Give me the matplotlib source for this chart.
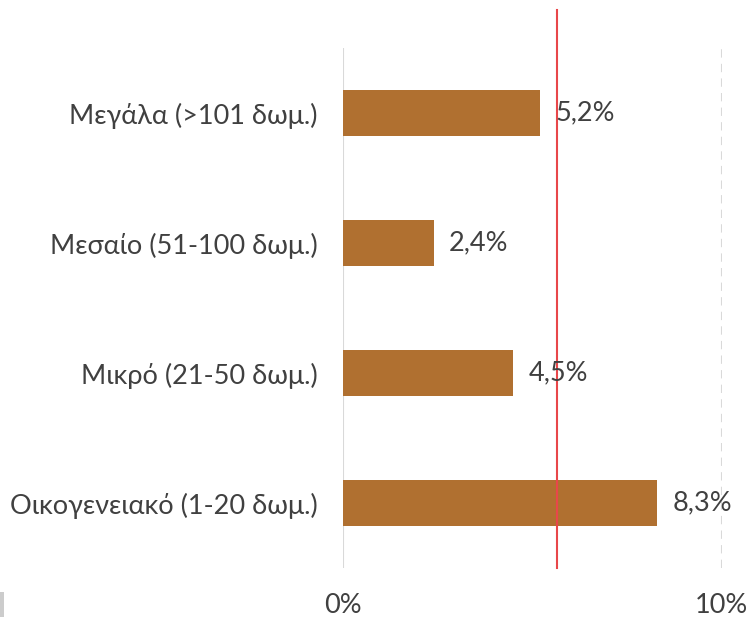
import matplotlib
matplotlib.use('Agg')
import matplotlib.pyplot as plt
from matplotlib.ticker import FuncFormatter
from matplotlib.patches import Rectangle

# Data
categories = ['Οικογενειακό (1-20 δωμ.)', 'Μικρό (21-50 δωμ.)',
              'Μεσαίο (51-100 δωμ.)', 'Μεγάλα (>101 δωμ.)']
values = [8.3, 4.5, 2.4, 5.2]
labels = ['8,3%', '4,5%', '2,4%', '5,2%']
average = 5.65
xticks = [0, 10]

plt.rcParams['font.family'] = ['Lato', 'DejaVu Sans']
textColor = '#404040'
fs = 19.5

fig = plt.figure(figsize=(7.47, 6.17), dpi=100)
ax = fig.add_axes([0.459, 0.0794, 0.5074, 0.8428])

ypos = list(range(len(categories)))
ax.barh(ypos, values, height=0.35, color='#B07030', zorder=3)

for y, v, lab in zip(ypos, values, labels):
    ax.annotate(lab, (v, y), xytext=(11, 0), textcoords='offset points',
                va='center', ha='left', fontsize=fs, color=textColor, zorder=5)

ax.set_xlim(0, 10)
ax.set_ylim(-0.5, len(categories) - 0.5)
ax.set_yticks(ypos)
ax.set_yticklabels(categories, fontsize=fs, color=textColor)
ax.set_xticks(xticks)
ax.xaxis.set_major_formatter(FuncFormatter(lambda x, p: '%d%%' % x))
ax.tick_params(axis='x', labelsize=fs, labelcolor=textColor, length=0, pad=18)
ax.tick_params(axis='y', length=0, pad=18)

for s in ax.spines.values():
    s.set_visible(False)

# gridlines
ax.axvline(0, color='#D9D9D9', lw=1.5, zorder=1)
ax.axvline(10, color='#D9D9D9', lw=1.5, ls=(0, (4, 3)), zorder=1)

# average line (extends above plot area)
ax.plot([average, average], [-0.5, 3.5 + 0.073 * 4], color='#E8474A', lw=1.5,
        clip_on=False, zorder=4)

# small grey fragment at bottom-left corner
fig.patches.append(Rectangle((0, 0), 0.006, 0.04, transform=fig.transFigure,
                             color='#CCCCCC', lw=0))

plt.savefig('out.png', dpi=100)
